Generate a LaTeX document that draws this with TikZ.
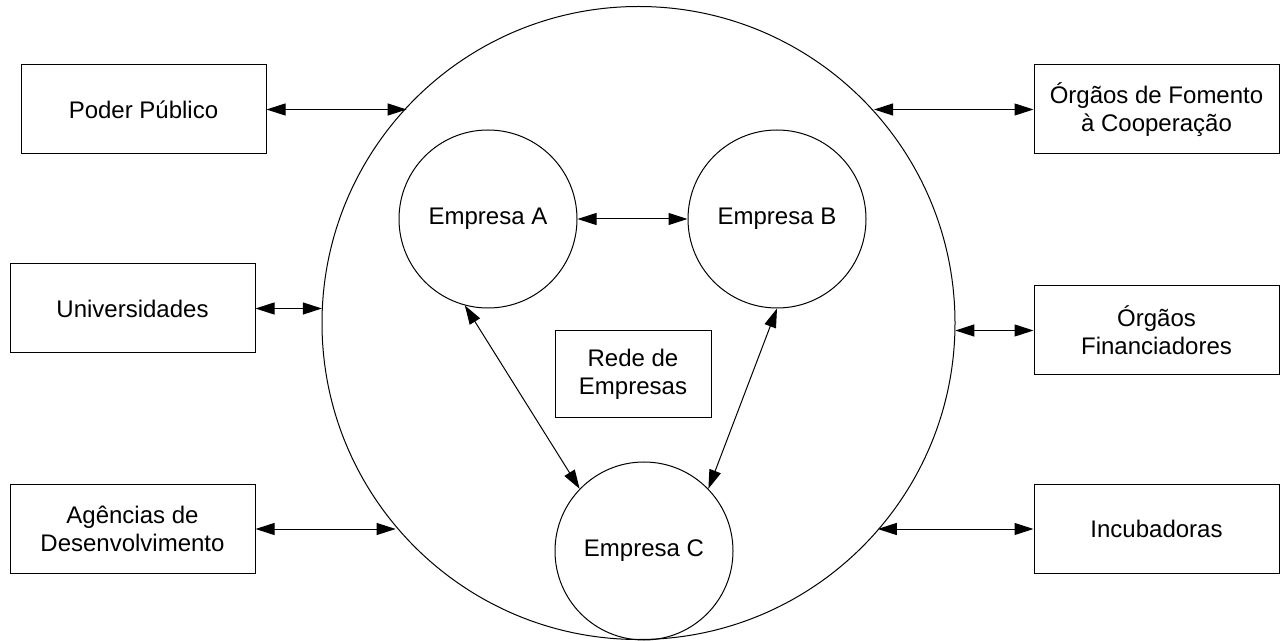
\documentclass[tikz,border=0pt]{standalone}
\usepackage{fontspec}
\setmainfont{Liberation Sans}
\usetikzlibrary{arrows.meta}
\begin{document}
\begin{tikzpicture}[x=0.5pt,y=0.5pt,
  box/.style={draw, line width=0.5pt, minimum width=122.5pt, minimum height=44.5pt, inner sep=0pt, align=center, font=\fontsize{12}{14}\selectfont},
  emp/.style={draw, circle, line width=0.5pt, minimum size=89pt, inner sep=0pt, font=\fontsize{12}{14}\selectfont},
  link/.style={line width=0.5pt, {Triangle[length=9.5pt,width=6pt]}-{Triangle[length=9.5pt,width=6pt]}}
]
\useasboundingbox (0,0) rectangle (1285,-641);
% big circle
\node[draw, circle, line width=0.5pt, minimum size=316.5pt, inner sep=0pt] (big) at (638.5,-323) {};
% outer boxes
\node[box] (pp)  at (143.5,-109.5) {Poder Público};
\node[box] (uni) at (132.5,-308.5) {Universidades};
\node[box] (age) at (132.5,-529)   {Agências de\\Desenvolvimento};
\node[box] (fom) at (1156.5,-109.5) {Órgãos de Fomento\\à Cooperação};
\node[box] (fin) at (1156.5,-330.5) {Órgãos\\Financiadores};
\node[box] (inc) at (1156.5,-529)   {Incubadoras};
% inner
\node[emp] (A) at (488,-219) {Empresa A};
\node[emp] (B) at (777,-219) {Empresa B};
\node[emp] (C) at (644,-551) {Empresa C};
\node[draw, line width=0.5pt, minimum width=78pt, minimum height=43.5pt, inner sep=0pt, align=center, font=\fontsize{12}{14}\selectfont] (rede) at (633,-374.5) {Rede de\\Empresas};
% outer links
\draw[link] (pp.east)  -- (pp.east -| big.137.6);
\draw[link] (uni.east) -- (uni.east -| big.177.3);
\draw[link] (age.east) -- (age.east -| big.220.6);
\draw[link] (fom.west -| big.42.4) -- (fom.west);
\draw[link] (fin.west -| big.358.6) -- (fin.west);
\draw[link] (inc.west -| big.319.4) -- (inc.west);
% inner links
\draw[link] (A.east) -- (B.west);
\draw[link] (A.255) -- (C.136);
\draw[link] (B.270) -- (C.44);
\end{tikzpicture}
\end{document}
